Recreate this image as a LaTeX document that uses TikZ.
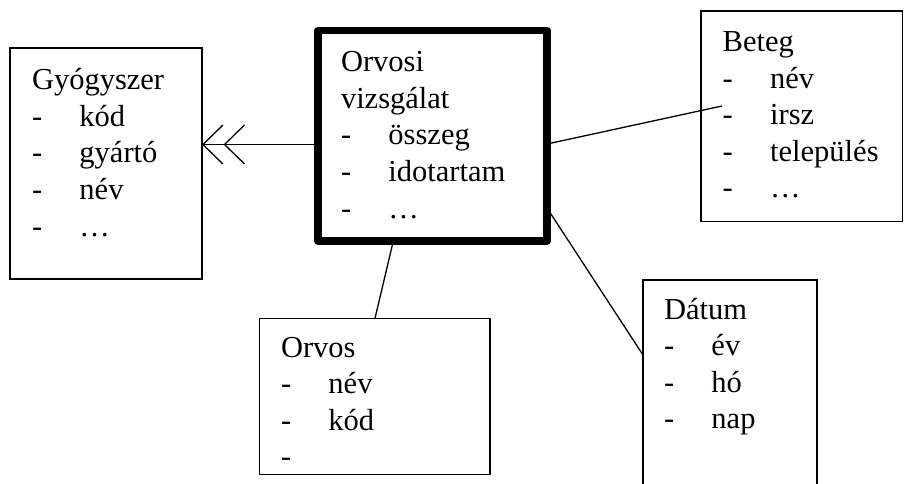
\documentclass[tikz,border=0pt]{standalone}
\usepackage{fontspec}
\setmainfont{Liberation Serif}
\usetikzlibrary{arrows.meta}
\newcommand{\itm}[1]{\hbox{\makebox[47.5pt][l]{-}#1}}
\newcommand{\hd}[1]{\hbox{#1}}
\newcommand{\boxlines}[1]{\vtop{\baselineskip=36.5pt\lineskiplimit=-100pt\lineskip=0pt #1}}
\begin{document}
\begin{tikzpicture}[x=1pt,y=-1pt,
  box/.style={draw, line width=1.3pt, rectangle, inner sep=0pt, outer sep=0pt, anchor=north west},
  mainbox/.style={draw, line width=7.7pt, line join=round, rectangle, inner sep=0pt, outer sep=0pt, anchor=north west},
  txt/.style={anchor=base west, inner sep=0pt, outer sep=0pt, font=\fontsize{30.5pt}{36.5pt}\selectfont},
  conn/.style={line width=1.3pt},
  crow/.style={conn, -{Straight Barb[length=20pt,width=39pt,sep=0pt]Straight Barb[length=20pt,width=39pt]}}]
\useasboundingbox (0,0) rectangle (904,484);
\clip (0,0) rectangle (904,484);
% boxes
\node[box, minimum width=192pt, minimum height=231pt] (gyo) at (10,48) {};
\node[mainbox, minimum width=229pt, minimum height=210.5pt] (viz) at (318,30.5) {};
\node[box, minimum width=201.5pt, minimum height=210.7pt] (bet) at (701,11) {};
\node[box, minimum width=174pt, minimum height=230pt] (dat) at (643,280) {};
\node[box, minimum width=230.7pt, minimum height=156pt] (orv) at (259.3,318.3) {};
% texts
\node[txt] (gyoT) at (32,90) {\boxlines{\hd{Gyógyszer}\itm{kód}\itm{gyártó}\itm{név}\itm{…}}};
\node[txt] (vizT) at (341,72) {\boxlines{\hd{Orvosi}\hd{vizsgálat}\itm{összeg}\itm{idotartam}\itm{…}}};
\node[txt] (betT) at (722.7,52) {\boxlines{\hd{Beteg}\itm{név}\itm{irsz}\itm{település}\itm{…}}};
\node[txt] (datT) at (664,319) {\boxlines{\hd{Dátum}\itm{év}\itm{hó}\itm{nap}}};
\node[txt] (orvT) at (281,357) {\boxlines{\hd{Orvos}\itm{név}\itm{kód}\itm{}}};
% connectors
\coordinate (betEnd) at (722,106);
\draw[crow] (viz.west |- 0,144.5) -- (gyo.east |- 0,144.5);
\draw[conn] (viz.east |- 0,144) -- (betEnd);
\draw[conn] (viz.east |- 0,208) -- (dat.west |- 0,355);
\draw[conn] (viz.south -| 393.3,0) -- (orv.north -| 375,0);
\end{tikzpicture}
\end{document}
